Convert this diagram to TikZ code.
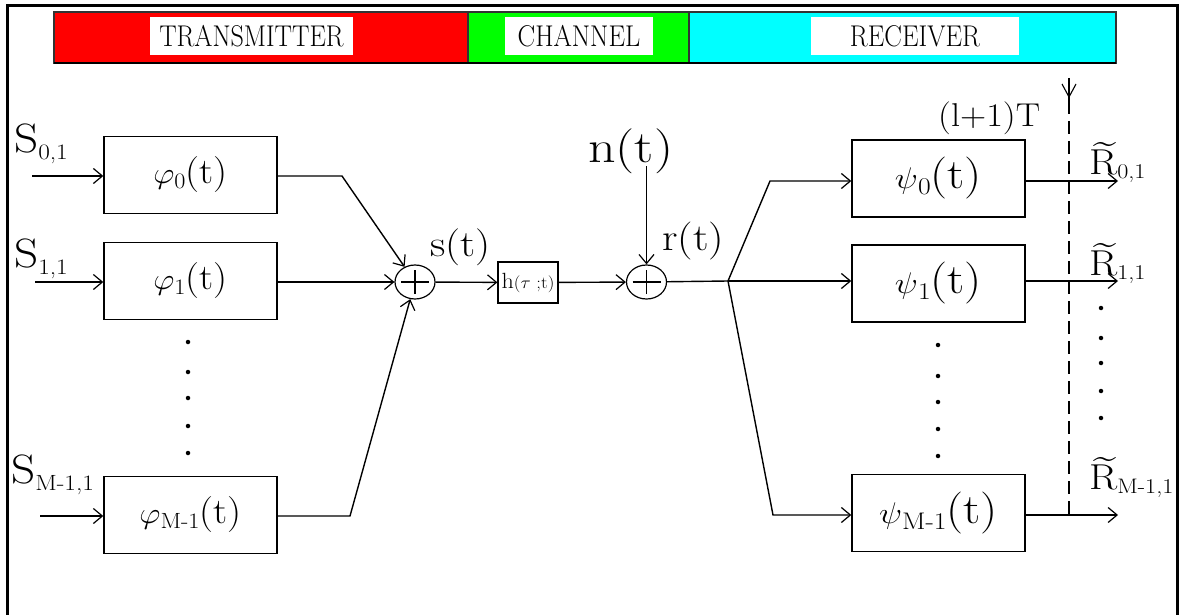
\documentclass[tikz,border=0pt]{standalone}
\usetikzlibrary{arrows.meta,shapes.geometric}
% lowered, smaller text: #1 shift, #2 size, #3 text
\newcommand\dn[3]{\raisebox{#1}{\fontsize{#2}{#2}\selectfont #3}}
\newcommand\fsz[1]{\fontsize{#1}{#1}\selectfont}
% horizontally widened text
\newcommand\wide[2]{\scalebox{#1}[1]{#2}}
\newcommand\gk[1]{\scalebox{1.2}{$#1$}}
% letter R with a tilde set above it
\newcommand\Rtil{\rlap{\hspace{0.1em}\raisebox{0.58em}[0pt][0pt]{\textasciitilde}}R}
\definecolor{txred}{RGB}{255,0,0}
\definecolor{chgreen}{RGB}{0,255,0}
\definecolor{rxcyan}{RGB}{0,255,255}
\tikzset{
  wire/.style={line width=1.4pt},
  arr/.style={wire,-{Straight Barb[length=9pt,width=15pt,line width=1.2pt]}},
  blk/.style={draw,line width=1.4pt,minimum width=173pt,minimum height=77pt,inner sep=0pt},
  sumnode/.style={draw,ellipse,line width=1.2pt,minimum width=40pt,minimum height=34pt,inner sep=0pt,
    path picture={
      \draw[line width=1.2pt] ([xshift=-14pt]path picture bounding box.center) -- ([xshift=14pt]path picture bounding box.center);
      \draw[line width=1.2pt] ([yshift=-12pt]path picture bounding box.center) -- ([yshift=12pt]path picture bounding box.center);
    }},
  lbl/.style={anchor=base west,inner sep=0pt},
  band/.style={draw=black!80,line width=1.2pt},
  tag/.style={fill=white,inner sep=0pt,minimum height=38pt},
  dotmark/.style={circle,fill=black,inner sep=0pt,minimum size=4.5pt}
}
\begin{document}
\begin{tikzpicture}[x=1pt,y=-1pt]
\useasboundingbox (0,0) rectangle (1180,615);
\fill[white] (0,0) rectangle (1180,615);

% section band
\filldraw[band,fill=txred] (54,12) rectangle (468,63);
\filldraw[band,fill=chgreen] (468,12) rectangle (689,63);
\filldraw[band,fill=rxcyan] (689,12) rectangle (1116,63);
\draw[line width=2pt] (54,63) -- (1116,63);
\node[tag,minimum width=203pt] (ttx) at (251.5,36) {\fsz{30}\wide{0.87}{TRANSMITTER}};
\node[tag,minimum width=148pt] (tch) at (579,36) {\fsz{30}\wide{0.88}{CHANNEL}};
\node[tag,minimum width=208pt] (trx) at (915,36) {\fsz{30}\wide{0.88}{RECEIVER}};

% transmitter filters
\node[blk] (phi0) at (190.5,175) {\fsz{36}\wide{1.1}{\gk{\varphi}\dn{-5pt}{22}{0}(t)}};
\node[blk] (phi1) at (190.5,281) {\fsz{36}\wide{1.1}{\gk{\varphi}\dn{-5pt}{22}{1}(t)}};
\node[blk] (phiM) at (190.5,515) {\fsz{36}\wide{1.1}{\gk{\varphi}\dn{-5pt}{22}{M-1}(t)}};

\node[lbl] (s0) at (14,153) {\fsz{41}\wide{1.15}{S\dn{-7pt}{22}{0,1}}};
\node[lbl] (s1) at (14,267) {\fsz{41}\wide{1.15}{S\dn{-7pt}{22}{1,1}}};
\node[lbl] (sM) at (11,483) {\fsz{41}\wide{1.15}{S\dn{-7pt}{22}{M-1,1}}};

\coordinate (in0) at (32,176);
\coordinate (in1) at (35,282);
\coordinate (inM) at (40,516);
\draw[arr] (in0) -- (in0 -| phi0.west);
\draw[arr] (in1) -- (in1 -| phi1.west);
\draw[arr] (inM) -- (inM -| phiM.west);

\foreach \yy in {342,372,398,426,453} \node[dotmark] at (188,\yy) {};

% summation and channel
\node[sumnode] (sum1) at (415,282) {};
\node[draw,line width=1.2pt,minimum width=60pt,minimum height=41pt,inner sep=0pt] (hbox) at (528,282.5)
  {\wide{1.1}{\fsz{22}h\fsz{17}($\tau$ ;t)}};
\node[sumnode] (sum2) at (646.5,282) {};

\coordinate (b0) at (342,176);
\coordinate (bM) at (350,516);
\draw[arr] (phi0.east |- b0) -- (b0) -- (sum1);
\draw[arr] (phi1.east |- sum1) -- (sum1);
\draw[arr] (phiM.east |- bM) -- (bM) -- (sum1);
\draw[arr] (sum1) -- (hbox);
\draw[arr] (hbox) -- (sum2);

\node[lbl] (st) at (430,256) {\fsz{37}\wide{1.15}{s(t)}};
\node[lbl] (nt) at (588,162) {\fsz{45}\wide{1.2}{n(t)}};
\node[lbl] (rt) at (662,250) {\fsz{38}\wide{1.15}{r(t)}};

\coordinate (ntop) at (646.5,166);
\draw[arr] (ntop) -- (sum2);

% receiver filters
\node[blk] (psi0) at (938.5,178.5) {\fsz{42}\wide{1.15}{\gk{\psi}\dn{-6pt}{24}{0}(t)}};
\node[blk] (psi1) at (938.5,283.5) {\fsz{42}\wide{1.15}{\gk{\psi}\dn{-6pt}{24}{1}(t)}};
\node[blk] (psiM) at (938.5,513) {\fsz{42}\wide{1.15}{\gk{\psi}\dn{-6pt}{24}{M-1}(t)}};

\coordinate (br) at (728,281);
\coordinate (up) at (770,181);
\coordinate (lo) at (773,515);
\draw[wire] (sum2) -- (br);
\draw[arr] (br) -- (up) -- (up -| psi0.west);
\draw[arr] (br) -- (br -| psi1.west);
\draw[arr] (br) -- (lo) -- (lo -| psiM.west);

\foreach \yy in {345,376,402,429,456} \node[dotmark] at (938,\yy) {};

\coordinate (o0) at (1118,181);
\coordinate (o1) at (1118,281);
\coordinate (oM) at (1118,515);
\draw[arr] (o0 -| psi0.east) -- (o0);
\draw[arr] (o1 -| psi1.east) -- (o1);
\draw[arr] (oM -| psiM.east) -- (oM);

% sampling instant
\coordinate (smpA) at (1069,78);
\coordinate (smpB) at (1069,101);
\draw[line width=1.1pt] (smpA) -- (smpB);
\draw[line width=1.1pt] (1062,84) -- (1069,97) -- (1076,84);
\draw[line width=1.3pt,dash pattern=on 13pt off 7pt] (smpB) -- (1069,515);
\node[lbl] (lT) at (938,127) {\fsz{33}\wide{1.1}{(l+1)T}};

\node[lbl] (r0) at (1089,174) {\fsz{36}\wide{1.15}{\Rtil\dn{-4pt}{21}{0,1}}};
\node[lbl] (r1) at (1089,275) {\fsz{36}\wide{1.15}{\Rtil\dn{-4pt}{21}{1,1}}};
\node[lbl] (rM) at (1089,489) {\fsz{36}\wide{1.15}{\Rtil\dn{-4pt}{21}{M-1,1}}};

\foreach \yy in {308,338,363,391,418} \node[dotmark] at (1101,\yy) {};

% outer frame
\draw[line width=3pt] (7,615) -- (7,6) -- (1177,6) -- (1177,615);
\end{tikzpicture}
\end{document}
